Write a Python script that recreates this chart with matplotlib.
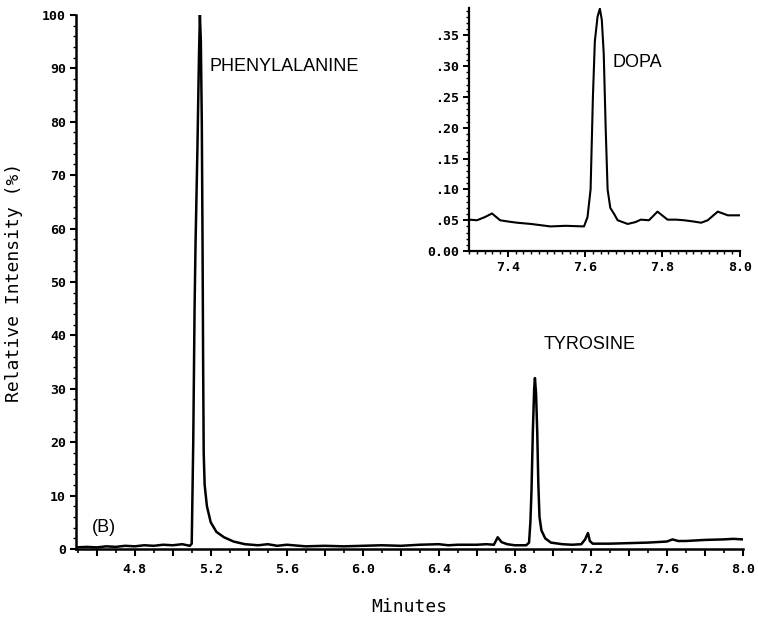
import matplotlib
matplotlib.use("Agg")
import matplotlib.pyplot as plt
from matplotlib.ticker import MultipleLocator, FixedLocator, FuncFormatter

# main chromatogram (minutes, relative intensity %)
main_t = [4.49, 4.55, 4.60, 4.65, 4.70, 4.75, 4.80, 4.85, 4.90, 4.95, 5.00, 5.05, 5.09,
          5.100, 5.108, 5.115, 5.120, 5.130, 5.138, 5.143, 5.148, 5.153, 5.157, 5.160,
          5.163, 5.168, 5.180, 5.200, 5.230, 5.270, 5.320, 5.380, 5.450, 5.500, 5.550,
          5.60, 5.70, 5.80, 5.90, 6.00, 6.10, 6.20, 6.30, 6.40, 6.45, 6.50, 6.60, 6.65,
          6.69, 6.71, 6.73, 6.76, 6.80, 6.86, 6.875, 6.882, 6.888, 6.895, 6.902, 6.906,
          6.912, 6.918, 6.924, 6.930, 6.940, 6.960, 6.990, 7.05, 7.10, 7.15, 7.17, 7.185,
          7.195, 7.21, 7.25, 7.30, 7.40, 7.50, 7.60, 7.63, 7.66, 7.70, 7.80, 7.90, 7.95, 8.00]
main_i = [0.3, 0.4, 0.3, 0.5, 0.4, 0.6, 0.5, 0.7, 0.6, 0.8, 0.7, 0.9, 0.6,
          1.0, 20, 45, 57, 75, 92, 100, 95, 80, 57, 35,
          18, 12, 8, 5, 3.2, 2.2, 1.4, 0.9, 0.7, 0.9, 0.6,
          0.8, 0.5, 0.6, 0.5, 0.6, 0.7, 0.6, 0.8, 0.9, 0.7, 0.8, 0.8, 0.9,
          0.8, 2.2, 1.3, 0.9, 0.7, 0.7, 1.2, 5, 11, 22, 30, 32,
          29, 22, 12, 6, 3.5, 2.0, 1.2, 0.9, 0.8, 0.9, 1.8, 3.0,
          1.5, 1.0, 1.0, 1.0, 1.1, 1.2, 1.4, 1.8, 1.5, 1.5, 1.7, 1.8, 1.9, 1.8]

# inset: DOPA region
dopa_t = [7.300, 7.320, 7.340, 7.359, 7.380, 7.400, 7.424, 7.460, 7.510, 7.550, 7.597,
          7.606, 7.614, 7.620, 7.625, 7.632, 7.638, 7.643, 7.648, 7.653, 7.658, 7.665,
          7.675, 7.684, 7.710, 7.730, 7.744, 7.765, 7.787, 7.813, 7.835, 7.856, 7.880,
          7.900, 7.917, 7.943, 7.969, 7.999]
dopa_v = [0.051, 0.050, 0.055, 0.061, 0.050, 0.048, 0.046, 0.044, 0.040, 0.041, 0.040,
          0.055, 0.100, 0.250, 0.340, 0.380, 0.393, 0.375, 0.320, 0.200, 0.100, 0.070,
          0.060, 0.050, 0.044, 0.047, 0.051, 0.050, 0.064, 0.051, 0.051, 0.050, 0.048,
          0.046, 0.050, 0.064, 0.058, 0.058]

main_xticks = [4.8, 5.2, 5.6, 6.0, 6.4, 6.8, 7.2, 7.6, 8.0]
main_yticks = [0, 10, 20, 30, 40, 50, 60, 70, 80, 90, 100]
dopa_xticks = [7.4, 7.6, 7.8, 8.0]
dopa_yticks = [0.0, 0.05, 0.10, 0.15, 0.20, 0.25, 0.30, 0.35]
dopa_ylabels = ['0.00', '.05', '.10', '.15', '.20', '.25', '.30', '.35']

mono = 'DejaVu Sans Mono'
narrow = ['Liberation Sans Narrow', 'Liberation Sans', 'DejaVu Sans']

fig = plt.figure(figsize=(7.58, 6.2), dpi=100)
ax = fig.add_axes([0.100, 0.1145, 0.880, 0.8615])

ax.plot(main_t, main_i, color='black', linewidth=1.8)
ax.set_xlim(4.49, 8.0)
ax.set_ylim(0, 100)
for s in ['top', 'right']:
    ax.spines[s].set_visible(False)
for s in ['left', 'bottom']:
    ax.spines[s].set_linewidth(1.8)

ax.xaxis.set_major_locator(MultipleLocator(0.2))
ax.xaxis.set_minor_locator(MultipleLocator(0.1))
ax.xaxis.set_major_formatter(FuncFormatter(
    lambda v, p: '%.1f' % v if min(abs(v - t) for t in main_xticks) < 1e-6 else ''))
ax.yaxis.set_major_locator(FixedLocator(main_yticks))
ax.yaxis.set_minor_locator(MultipleLocator(2))
ax.tick_params(axis='x', which='major', length=5, width=1.5, direction='out', pad=5)
ax.tick_params(axis='x', which='minor', length=3, width=1.2, direction='out')
ax.tick_params(axis='y', which='major', length=4, width=1.5, direction='out', pad=3)
ax.tick_params(axis='y', which='minor', length=2, width=1.0, direction='out')
for lab in ax.get_xticklabels() + ax.get_yticklabels():
    lab.set_family(mono)
    lab.set_fontweight('bold')
    lab.set_fontsize(9.5)

ax.set_xlabel('Minutes', family=mono, fontsize=13, labelpad=16)
ax.set_ylabel('Relative Intensity (%)', family=mono, fontsize=13, labelpad=14)

ax.text(5.195, 90.3, 'PHENYLALANINE', family=narrow, fontsize=13, va='center', ha='left')
ax.text(6.95, 38.2, 'TYROSINE', family=narrow, fontsize=13, va='center', ha='left')
ax.text(4.575, 4.0, '(B)', family=narrow, fontsize=13, va='center', ha='left')

# inset
ins = fig.add_axes([0.619, 0.595, 0.357, 0.392])
ins.plot(dopa_t, dopa_v, color='black', linewidth=1.5)
ins.set_xlim(7.3, 8.0)
ins.set_ylim(0, 0.394)
for s in ['top', 'right']:
    ins.spines[s].set_visible(False)
for s in ['left', 'bottom']:
    ins.spines[s].set_linewidth(1.6)
ins.xaxis.set_major_locator(FixedLocator(dopa_xticks))
ins.xaxis.set_minor_locator(MultipleLocator(0.02))
ins.yaxis.set_major_locator(FixedLocator(dopa_yticks))
ins.yaxis.set_minor_locator(MultipleLocator(0.01))
ins.set_xticklabels(['%.1f' % v for v in dopa_xticks])
ins.set_yticklabels(dopa_ylabels)
ins.tick_params(axis='both', which='major', length=4, width=1.4, direction='out', pad=3)
ins.tick_params(axis='both', which='minor', length=2.5, width=1.0, direction='out')
for lab in ins.get_xticklabels() + ins.get_yticklabels():
    lab.set_family(mono)
    lab.set_fontweight('bold')
    lab.set_fontsize(9.5)
ins.text(7.671, 0.306, 'DOPA', family=narrow, fontsize=13, va='center', ha='left')

fig.savefig('out.png', dpi=100)
